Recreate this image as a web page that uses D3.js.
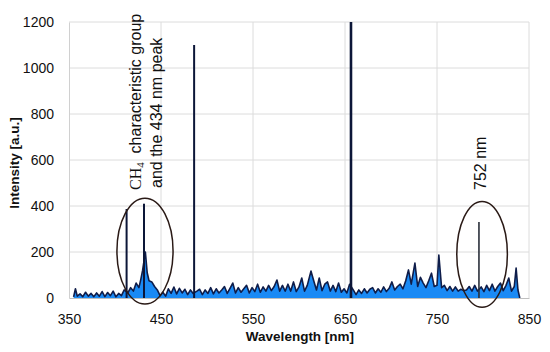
<!DOCTYPE html>
<html>
<head>
<meta charset="utf-8">
<script src="https://cdn.jsdelivr.net/npm/d3@7"></script>
<style>
  body { margin: 0; background: #fff; }
  text { font-family: 'Liberation Sans', Arial, sans-serif; }
</style>
</head>
<body>
<svg width="550" height="352"></svg>
<script>
// spectrum (wavelength in nm, intensity in a.u.)
var wavelength = [
  355, 357, 359, 362, 365, 368, 371, 374, 377, 380,
  383, 386, 389, 392, 395, 398, 401, 404, 407, 410,
  414, 417, 420, 423, 426, 428, 430, 433, 435, 437,
  440, 443, 446, 449, 452, 455, 458, 461, 464, 467,
  470, 473, 476, 479, 482, 485, 489, 492, 495, 498,
  501, 504, 507, 510, 513, 516, 519, 522, 525, 528,
  531, 534, 537, 540, 543, 546, 549, 552, 555, 558,
  561, 564, 567, 570, 573, 576, 579, 582, 585, 588,
  591, 594, 597, 600, 603, 606, 609, 613, 616, 619,
  622, 625, 628, 631, 634, 637, 640, 643, 646, 649,
  652, 655, 659, 662, 665, 668, 671, 674, 677, 680,
  683, 686, 689, 692, 695, 698, 701, 704, 707, 710,
  713, 716, 719, 722, 726, 729, 732, 735, 738, 741,
  744, 747, 750, 752, 755, 758, 761, 764, 767, 770,
  773, 776, 779, 782, 785, 788, 791, 794, 798, 801,
  804, 807, 810, 813, 816, 819, 822, 825, 828, 831,
  834, 836, 838, 840
]
var intensity = [
  5, 40, 8, 18, 6, 25, 8, 20, 6, 22,
  8, 28, 6, 24, 10, 30, 5, 20, 10, 35,
  22, 45, 30, 65, 45, 80, 120, 200, 110, 75,
  70, 50, 35, 10, 25, 8, 40, 20, 48, 18,
  42, 22, 38, 15, 35, 20, 30, 38, 15, 35,
  20, 45, 18, 40, 22, 35, 50, 20, 42, 65,
  22, 45, 25, 40, 55, 22, 45, 28, 60, 25,
  48, 30, 55, 32, 50, 78, 30, 55, 30, 60,
  30, 70, 28, 48, 87, 30, 55, 117, 75, 35,
  87, 32, 60, 70, 30, 55, 28, 65, 25, 40,
  22, 60, 35, 15, 35, 20, 40, 22, 38, 45,
  22, 40, 25, 48, 28, 42, 70, 35, 50, 60,
  40, 75, 122, 60, 152, 50, 90, 65, 45, 75,
  108, 50, 55, 187, 45, 55, 32, 50, 30, 48,
  30, 38, 32, 35, 50, 30, 55, 30, 48, 28,
  55, 32, 60, 30, 50, 65, 32, 55, 87, 30,
  50, 130, 35, 0
]
// strong emission lines
var lineWl = [412.6, 431.5, 486, 656.5, 795.6]
var lineI = [387, 410, 1100, 1300, 330]

var xTicks = [350, 450, 550, 650, 750, 850]
var yTicks = [0, 200, 400, 600, 800, 1000, 1200]

// ellipse annotations (centre wavelength, centre intensity)
var noteWl = [432.6, 799]
var noteI = [204, 190]

var svg = d3.select('svg')
var margin = {top: 22, right: 21, bottom: 54, left: 69}
var W = 550, H = 352

var x = d3.scaleLinear().domain([350, 850]).range([margin.left, W - margin.right])
var y = d3.scaleLinear().domain([0, 1200]).range([H - margin.bottom, margin.top])

svg.append('defs').append('clipPath').attr('id', 'plot')
  .append('rect')
  .attr('x', x(350)).attr('y', y(1200))
  .attr('width', x(850) - x(350)).attr('height', y(0) - y(1200))

// gridlines
svg.append('g').selectAll('line').data(yTicks.slice(1)).join('line')
  .attr('x1', x(350)).attr('x2', x(850))
  .attr('y1', (d) => y(d)).attr('y2', (d) => y(d))
  .attr('stroke', '#dcdcdc').attr('stroke-width', 1)
svg.append('g').selectAll('line').data(xTicks.slice(1)).join('line')
  .attr('x1', (d) => x(d)).attr('x2', (d) => x(d))
  .attr('y1', y(0)).attr('y2', y(1200))
  .attr('stroke', '#dcdcdc').attr('stroke-width', 1)

// axes
var xAxis = svg.append('g')
  .attr('transform', 'translate(0,' + y(0) + ')')
  .call(d3.axisBottom(x).tickValues(xTicks).tickFormat(d3.format('d')).tickSize(0).tickPadding(16))
var yAxis = svg.append('g')
  .attr('transform', 'translate(' + x(350) + ',0)')
  .call(d3.axisLeft(y).tickValues(yTicks).tickFormat(d3.format('d')).tickSize(0).tickPadding(15))
xAxis.select('.domain').attr('stroke', '#bfbfbf')
yAxis.select('.domain').attr('stroke', '#d0d0d0')
svg.selectAll('.tick text')
  .attr('font-family', "'Liberation Sans', Arial, sans-serif")
  .attr('font-size', 14).attr('fill', '#111')

// spectrum
var pts = wavelength.map((w, i) => ({x: w, y: intensity[i]}))
var plot = svg.append('g').attr('clip-path', 'url(#plot)')
plot.append('path').datum(pts)
  .attr('fill', '#1a8af5')
  .attr('d', d3.area().x((d) => x(d.x)).y0(y(0)).y1((d) => y(d.y)))
plot.append('path').datum(pts)
  .attr('fill', 'none')
  .attr('stroke', '#0f1d4a')
  .attr('stroke-width', 1.6)
  .attr('stroke-linejoin', 'round')
  .attr('d', d3.line().x((d) => x(d.x)).y((d) => y(d.y)))

plot.selectAll('.em').data(lineWl).join('line')
  .attr('class', 'em')
  .attr('x1', (d) => x(d)).attr('x2', (d) => x(d))
  .attr('y1', y(0)).attr('y2', (d, i) => y(lineI[i]))
  .attr('stroke', (d, i) => i === 4 ? '#2a2f3a' : '#0c1638')
  .attr('stroke-width', (d, i) => i === 3 ? 2.6 : (i === 4 ? 1.6 : 2))

// ellipses
svg.selectAll('.ell').data(noteWl).join('ellipse')
  .attr('class', 'ell')
  .attr('cx', (d) => x(d)).attr('cy', (d, i) => y(noteI[i]))
  .attr('rx', (d, i) => x(350 + (i === 0 ? 30.5 : 27.5)) - x(350))
  .attr('ry', y(0) - y(230))
  .attr('fill', 'none').attr('stroke', '#2a1a16').attr('stroke-width', 1.5)

// annotation texts
var t1 = svg.append('text')
  .attr('transform', 'translate(141,190) rotate(-90)')
  .attr('font-size', 16).attr('fill', '#111')
t1.append('tspan').attr('font-family', "'Liberation Serif', 'Times New Roman', serif").text('CH')
t1.append('tspan').attr('font-family', "'Liberation Serif', 'Times New Roman', serif")
  .attr('font-size', 11).attr('dy', 3).text('4')
t1.append('tspan').attr('dy', -3).text('\u00a0 characteristic group')

svg.append('text')
  .attr('transform', 'translate(162,188) rotate(-90)')
  .attr('font-size', 16).attr('fill', '#111')
  .text('and the 434 nm peak')

svg.append('text')
  .attr('transform', 'translate(486,190) rotate(-90)')
  .attr('font-size', 16).attr('fill', '#111')
  .text('752 nm')

// axis titles
svg.append('text')
  .attr('x', 300).attr('y', 341)
  .attr('text-anchor', 'middle')
  .attr('font-weight', 'bold').attr('font-size', 13.5).attr('fill', '#111')
  .text('Wavelength [nm]')
svg.append('text')
  .attr('transform', 'translate(19,163) rotate(-90)')
  .attr('text-anchor', 'middle')
  .attr('font-weight', 'bold').attr('font-size', 13.5).attr('fill', '#111')
  .text('Intensity [a.u.]')
</script>
</body>
</html>
